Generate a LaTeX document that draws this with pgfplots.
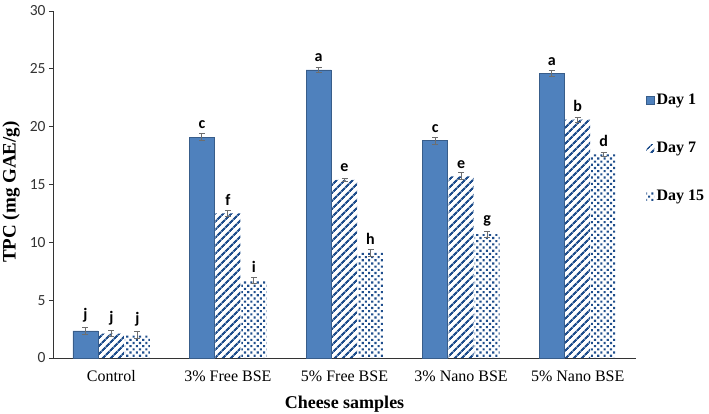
\documentclass[border=0pt]{standalone}
\usepackage{fontspec}
\setmainfont{Liberation Serif}
\newfontfamily\calibri{Carlito}
\usepackage{pgfplots}
\pgfplotsset{compat=1.18}
\usetikzlibrary{patterns.meta}
\definecolor{dayone}{RGB}{79,129,189}
\definecolor{dayoneedge}{RGB}{56,93,138}
\definecolor{patblue}{RGB}{31,78,140}
\definecolor{errgray}{RGB}{110,110,110}

\pgfplotstableread{
x y e l
0 2.35 0.30 j
1 19.1 0.30 c
2 24.9 0.22 a
3 18.8 0.30 c
4 24.6 0.28 a
}\dayA
\pgfplotstableread{
x y e l
0 2.10 0.25 j
1 12.5 0.25 f
2 15.4 0.15 e
3 15.7 0.30 e
4 20.6 0.22 b
}\dayB
\pgfplotstableread{
x y e l
0 2.00 0.30 j
1 6.70 0.25 i
2 9.10 0.30 h
3 10.7 0.25 g
4 17.6 0.18 d
}\dayC

\begin{document}
\begin{tikzpicture}[x=1bp,y=1bp]
\path[use as bounding box] (0,0) rectangle (709,413);
\begin{axis}[
  at={(53bp,55bp)}, anchor=south west,
  scale only axis,
  width=583bp, height=347bp,
  ybar=1bp, bar width=25bp,
  xmin=-0.5, xmax=4.5,
  ymin=0, ymax=30,
  ytick={0,5,...,30},
  xtick=data,
  xticklabels={Control,3\% Free BSE,5\% Free BSE,3\% Nano BSE,5\% Nano BSE},
  x tick label style={font=\fontsize{16bp}{18bp}\selectfont, yshift=-5bp},
  y tick label style={font=\calibri\fontsize{15.5bp}{17bp}\selectfont, color=black!80},
  /pgf/number format/assume math mode=true,
  axis x line*=bottom, axis y line*=left,
  axis line style={-, black!80, line width=0.8bp},
  major x tick style={draw=none},
  major y tick style={black!80, line width=0.8bp},
  tick align=outside, major tick length=4bp,
  ylabel={\bfseries TPC (mg GAE/g)},
  ylabel style={font=\fontsize{19bp}{21bp}\selectfont, at={(axis description cs:-0.072,0.478)}, anchor=center},
  xlabel={\bfseries Cheese samples},
  xlabel style={font=\fontsize{18bp}{20bp}\selectfont, at={(axis description cs:0.5,-0.145)}, anchor=base},
  error bars/y dir=both, error bars/y explicit,
  error bars/error bar style={errgray, line width=1bp},
  error bars/error mark options={rotate=90, mark size=3bp, errgray, line width=1bp},
  point meta=explicit symbolic,
  nodes near coords,
  nodes near coords style={font=\calibri\bfseries\fontsize{16bp}{18bp}\selectfont, anchor=south, inner sep=1bp, yshift=7bp, black},
  legend style={draw=none, fill=none, at={(1.012,0.772)}, anchor=north west,
    font=\bfseries\fontsize{16bp}{18bp}\selectfont, row sep=32bp},
  legend cell align=left,
  legend image code/.code={\path[#1] (0bp,-4bp) rectangle (8bp,4bp);},
  clip=false,
]
\addplot[fill=dayone, draw=dayoneedge, line width=0.4bp]
  table[x=x, y=y, y error=e, meta=l] {\dayA};
\addplot[draw=none, pattern={Lines[angle=45,distance=6bp,line width=2.6bp]}, pattern color=patblue]
  table[x=x, y=y, y error=e, meta=l] {\dayB};
\addplot[draw=none, pattern={Dots[radius=1.5bp,distance=4.5bp,angle=45]}, pattern color=patblue]
  table[x=x, y=y, y error=e, meta=l] {\dayC};
\legend{Day 1,Day 7,Day 15}
\end{axis}
\end{tikzpicture}
\end{document}
